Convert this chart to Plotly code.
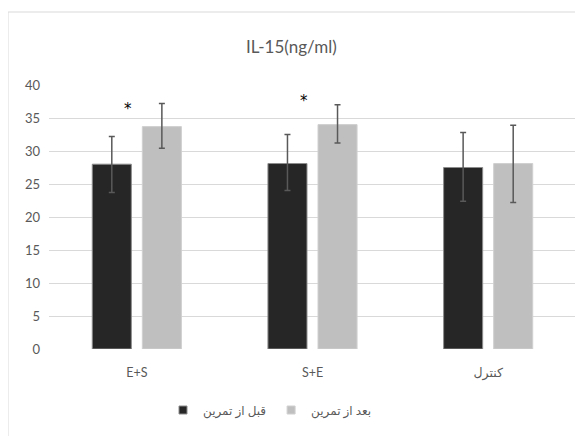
import plotly.graph_objects as go

categories = ["E+S", "S+E", "کنترل"]
series_names = ["قبل از تمرین", "بعد از تمرین"]
before = [28.0, 28.1, 27.5]
before_err_plus = [4.2, 4.4, 5.3]
before_err_minus = [4.3, 4.1, 5.1]
after = [33.7, 34.0, 28.1]
after_err_plus = [3.5, 3.0, 5.8]
after_err_minus = [3.3, 2.8, 5.9]
star_categories = ["E+S", "S+E"]
star_values = [37.0, 38.2]
title_text = "IL-15(ng/ml)"

FONT = "Lato, DejaVu Sans, sans-serif"
OFF = 8  # page body margin
W, H = 583 - OFF, 436 - OFF
L, R, T, B = 49 - OFF, 7, 85 - OFF, 87
pw = W - L - R
ph = H - T - B
colors = ["#262626", "#bfbfbf"]
edge = ["#8c8c8c", "#d0d0d0"]


def px_to_paper_x(px):
    return (px - OFF - L) / pw


def px_to_paper_y(py):
    return (H - B - (py - OFF)) / ph


fig = go.Figure()
fig.add_trace(go.Bar(
    x=categories, y=before, name=series_names[0], showlegend=False,
    marker=dict(color=colors[0], line=dict(color=edge[0], width=1)),
    error_y=dict(type="data", symmetric=False, array=before_err_plus,
                 arrayminus=before_err_minus, color="#595959", thickness=1.5, width=3),
))
fig.add_trace(go.Bar(
    x=categories, y=after, name=series_names[1], showlegend=False,
    marker=dict(color=colors[1], line=dict(color=edge[1], width=1)),
    error_y=dict(type="data", symmetric=False, array=after_err_plus,
                 arrayminus=after_err_minus, color="#595959", thickness=1.5, width=3),
))
for name, c, e in zip(series_names, colors, edge):
    fig.add_trace(go.Scatter(x=[None], y=[None], mode="markers", name=name,
                             marker=dict(symbol="square", size=8, color=c,
                                         line=dict(color=e, width=1))))

annotations = []
for c, v in zip(star_categories, star_values):
    annotations.append(dict(x=c, y=v, xref="x", yref="y", text="*", showarrow=False,
                            xshift=-9, yshift=-4,
                            font=dict(family="DejaVu Sans", size=15, color="#000000")))
annotations.append(dict(x=px_to_paper_x(291), y=px_to_paper_y(47), xref="paper", yref="paper",
                        text=title_text, showarrow=False, xanchor="center", yanchor="middle",
                        font=dict(family=FONT, size=17, color="#595959")))

fig.update_layout(
    width=W, height=H,
    margin=dict(l=L, r=R, t=T, b=B),
    paper_bgcolor="white", plot_bgcolor="white",
    barmode="group", bargap=0.43, bargroupgap=0.22,
    font=dict(family=FONT, size=12, color="#595959"),
    showlegend=True,
    legend=dict(orientation="h", x=px_to_paper_x(270), xanchor="center",
                y=px_to_paper_y(410), yanchor="middle",
                font=dict(family=FONT, size=12, color="#595959"),
                itemwidth=30, tracegroupgap=0),
    annotations=annotations,
    shapes=[dict(type="rect", xref="paper", yref="paper",
                 x0=px_to_paper_x(8), x1=px_to_paper_x(600),
                 y0=px_to_paper_y(460), y1=px_to_paper_y(12),
                 line=dict(color="#d9d9d9", width=1), fillcolor="rgba(0,0,0,0)", layer="below")],
)
fig.update_yaxes(range=[0, 40], dtick=5, showgrid=True, gridcolor="#d9d9d9", gridwidth=1,
                 zeroline=False, showline=False, ticks="", ticklabelstandoff=8,
                 tickfont=dict(family=FONT, size=13, color="#595959"))
fig.update_xaxes(showgrid=False, showline=False, ticks="", ticklabelstandoff=14,
                 tickfont=dict(family=FONT, size=12.5, color="#595959"))

fig.write_html("out.html")
